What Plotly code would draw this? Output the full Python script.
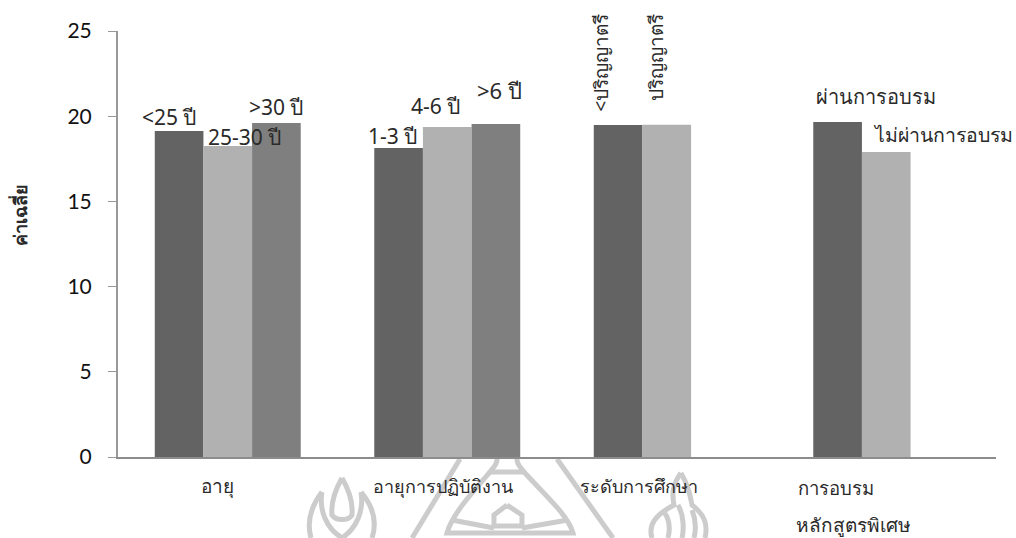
import plotly.graph_objects as go

categories = ["อายุ", "อายุการปฏิบัติงาน", "ระดับการศึกษา", "การอบรม"]
series_a = [19.13, 18.13, 19.48, 19.66]
series_b = [18.25, 19.37, 19.50, 17.90]
series_c = [19.60, 19.54, None, None]
colors = ["#636363", "#b1b1b1", "#7f7f7f"]
y_ticks = [0, 5, 10, 15, 20, 25]

THAI = "Noto Sans, DejaVu Sans"
INK = "#2a2a2a"

# Plot area in page pixels, used to place the decorative emblem
PLOT_L, PLOT_R, PLOT_T, PLOT_B = 118, 996, 31, 457


def emblem_path(segments):
    """Build an SVG path in paper units from page-pixel commands."""
    out = []
    for cmd, *pts in segments:
        out.append(cmd)
        for px, py in pts:
            out.append(f"{(px - PLOT_L) / (PLOT_R - PLOT_L):.4f} {(PLOT_B - py) / (PLOT_B - PLOT_T):.4f}")
    return " ".join(out)


fig = go.Figure()

# Faint emblem beneath the plot
emblem_color = "#cccccc"
emblem_parts = [
    # left flame
    [("M", (342, 478)), ("C", (335, 490), (331, 503), (332, 515)), ("C", (336, 521), (348, 521), (352, 515)), ("C", (353, 503), (349, 490), (342, 478))],
    [("M", (322, 492)), ("C", (312, 505), (306, 520), (311, 538))],
    [("M", (361, 492)), ("C", (372, 505), (378, 520), (372, 538))],
    [("M", (322, 492)), ("C", (319, 510), (326, 528), (342, 538))],
    [("M", (361, 492)), ("C", (364, 510), (357, 528), (342, 538))],
    # triangle sides
    [("M", (460, 459)), ("L", (412, 538))],
    [("M", (557, 459)), ("L", (613, 538))],
    # bell and dome
    [("M", (497, 459)), ("C", (497, 466), (492, 468), (490, 472)), ("L", (524, 472)), ("C", (522, 468), (517, 466), (517, 459))],
    [("M", (490, 472)), ("C", (470, 495), (452, 515), (447, 533)), ("L", (573, 533)), ("C", (568, 515), (545, 495), (524, 472))],
    [("M", (507, 505)), ("L", (494, 515)), ("L", (494, 526)), ("L", (522, 526)), ("L", (522, 515)), ("L", (507, 505))],
    [("M", (452, 520)), ("L", (494, 528))],
    [("M", (568, 520)), ("L", (522, 528))],
    # right sheaf
    [("M", (681, 473)), ("C", (672, 485), (672, 495), (674, 505)), ("C", (655, 515), (648, 525), (652, 538))],
    [("M", (681, 473)), ("C", (688, 485), (690, 495), (692, 505)), ("C", (705, 515), (708, 525), (705, 538))],
    [("M", (664, 512)), ("C", (670, 520), (670, 530), (668, 538))],
    [("M", (678, 505)), ("C", (684, 515), (684, 530), (682, 538))],
    [("M", (692, 510)), ("C", (696, 520), (696, 530), (694, 538))],
]
for part in emblem_parts:
    fig.add_shape(type="path", path=emblem_path(part), xref="paper", yref="paper",
                  line=dict(color=emblem_color, width=5), layer="below")

for vals, col in zip([series_a, series_b, series_c], colors):
    fig.add_bar(x=categories, y=vals, marker=dict(color=col, line=dict(width=0)), showlegend=False)

# Labels on the bars: (text, category index, series value, x offset, y offset, angle, size)
bar_labels = [
    ("<25 ปี", 0, series_a[0], -58, 14, 0, 21),
    ("25-30 ปี", 0, series_b[0], 17, 9, 0, 21),
    (">30 ปี", 0, series_c[0], 49, 16, 0, 21),
    ("1-3 ปี", 1, series_a[1], -55, 12, 0, 21),
    ("4-6 ปี", 1, series_b[1], -12, 21, 0, 21),
    (">6 ปี", 1, series_c[1], 52, 34, 0, 22),
    ("<ปริญญาตรี", 2, series_a[2], -66, 62, -90, 19),
    ("ปริญญาตรี", 2, series_b[2], -11, 67, -90, 19),
    ("ผ่านการอบรม", 3, series_a[3], -10, 25, 0, 20),
    ("ไม่ผ่านการอบรม", 3, series_b[3], 57, 17, 0, 19.5),
]
for text, idx, val, dx, dy, ang, size in bar_labels:
    fig.add_annotation(x=categories[idx], y=val, text=text, showarrow=False, xshift=dx, yshift=dy,
                       textangle=ang, font=dict(family=THAI, size=size, color=INK))

# Category captions sit off-centre under their groups
captions = [
    (categories[0], 0, -10, -29, 19),
    (categories[1], 1, -4, -29, 18),
    (categories[2], 2, -28, -29, 18),
    (categories[3], 3, -50, -30, 18.5),
    ("หลักสูตรพิเศษ", 3, -33, -68, 19),
]
for text, idx, dx, dy, size in captions:
    fig.add_annotation(x=categories[idx], y=0, text=text, showarrow=False, xshift=dx, yshift=dy,
                       font=dict(family=THAI, size=size, color=INK))

fig.add_annotation(xref="paper", yref="paper", x=(20 - PLOT_L) / (PLOT_R - PLOT_L),
                   y=(PLOT_B - 215) / (PLOT_B - PLOT_T), text="<b>ค่าเฉลี่ย</b>", textangle=-90,
                   xanchor="center", yanchor="middle",
                   showarrow=False, font=dict(family=THAI, size=18, color=INK))

fig.update_layout(
    width=1016, height=538, margin=dict(l=PLOT_L, r=1016 - PLOT_R, t=PLOT_T, b=538 - PLOT_B),
    plot_bgcolor="rgba(0,0,0,0)", paper_bgcolor="white",
    barmode="group", bargap=0.335, bargroupgap=0,
    font=dict(family=THAI, color="#111111"),
    xaxis=dict(range=[-0.5, 3.5], showline=True, linecolor="#8c8c8c", linewidth=2, ticks="",
               showticklabels=False, showgrid=False, zeroline=False),
    yaxis=dict(range=[0, 25], tickvals=y_ticks, showline=True, linecolor="#999999", linewidth=2,
               ticks="outside", tickcolor="#999999", ticklen=8, tickwidth=1, showgrid=False, zeroline=False,
               ticklabelstandoff=12,
               tickfont=dict(family="Lato, Open Sans", size=21, color="#111111")),
)
fig.write_html("out.html")
